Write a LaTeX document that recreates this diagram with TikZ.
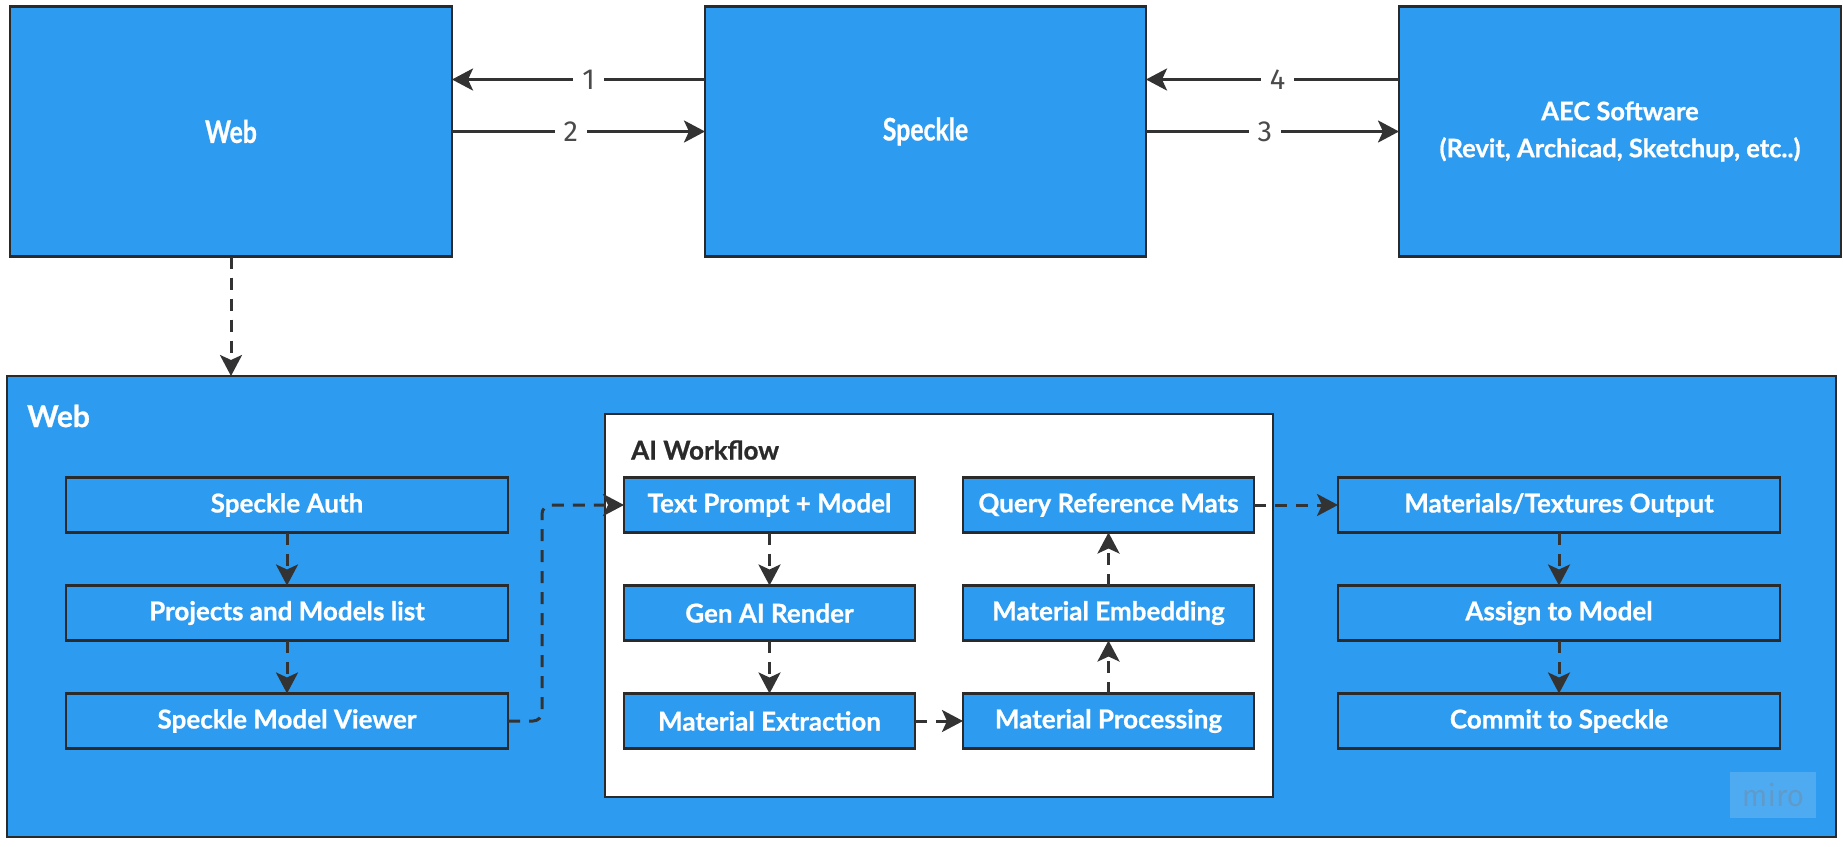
\documentclass[tikz,border=0pt]{standalone}
\usepackage{fontspec}
\newfontfamily\boxf[BoldFeatures={FakeBold=0.8}]{Lato}
\newfontfamily\condf[FakeStretch=0.8,BoldFeatures={FakeBold=0.8}]{Lato}
\newfontfamily\numf{Fira Sans}
\usetikzlibrary{arrows.meta}
\definecolor{mblue}{HTML}{2D9BF0}
\definecolor{edgec}{HTML}{2A2A2A}
\definecolor{connc}{HTML}{333333}
\definecolor{numc}{HTML}{4A4A4A}
\begin{document}
\begin{tikzpicture}[x=1pt,y=-1pt,
  box/.style={draw=edgec, line width=2.6pt, fill=mblue, text=white, inner sep=0pt, outer sep=0pt, align=center,
    font=\boxf\bfseries\fontsize{26}{30}\selectfont},
  rowbox/.style={box, minimum height=55pt},
  topbox/.style={box, minimum height=250pt, minimum width=442pt},
  link/.style={draw=connc, line width=3pt, -{Stealth[length=21pt,width=22pt,inset=5pt]}},
  dlink/.style={link, dash pattern=on 12pt off 9pt},
  num/.style={fill=white, text=numc, font=\numf\fontsize{29}{30}\selectfont, inner xsep=9pt, inner ysep=2pt}]
\useasboundingbox (0,0) rectangle (1844,846);
\fill[white] (0,0) rectangle (1844,846);

% top row
\node[topbox, font=\condf\bfseries\fontsize{31}{34}\selectfont] (web) at (231,131.5) {Web};
\node[topbox, minimum width=441pt, font=\condf\bfseries\fontsize{31}{34}\selectfont] (spk) at (925.5,131.5) {Speckle};
\node[topbox, font=\boxf\bfseries\fontsize{25.5}{37}\selectfont] (aec) at (1620,131.5) {AEC Software\\(Revit, Archicad, Sketchup, etc..)};

\draw[link] ([yshift=52pt]spk.west) -- node[num, pos=0.46]{1} ([yshift=52pt]web.east);
\draw[link] (web.east) -- node[num, pos=0.47]{2} (spk.west);
\draw[link] ([yshift=52pt]aec.west) -- node[num, pos=0.48]{4} ([yshift=52pt]spk.east);
\draw[link] (spk.east) -- node[num, pos=0.47]{3} (aec.west);

% container
\node[box, minimum width=1829pt, minimum height=461pt] (cont) at (921.5,606.5) {};
\node[anchor=west, text=white, font=\boxf\bfseries\fontsize{30}{34}\selectfont, inner sep=0pt] (contlbl) at (27,416) {Web};
\draw[dlink] (web.south) -- (web.south |- cont.north);

% AI workflow box
\node[box, fill=white, minimum width=668pt, minimum height=383pt] (ai) at (939,605.5) {};
\node[anchor=west, text=edgec, font=\boxf\bfseries\fontsize{26}{30}\selectfont, inner sep=0pt] (ailbl) at (631,450) {AI Workflow};

% left column
\node[rowbox, minimum width=442pt] (auth) at (287,505) {Speckle Auth};
\node[rowbox, minimum width=442pt] (proj) at (287,613) {Projects and Models list};
\node[rowbox, minimum width=442pt] (view) at (287,721) {Speckle Model Viewer};

% AI left column
\node[rowbox, minimum width=291pt] (tp) at (769.5,505) {Text Prompt + Model};
\node[rowbox, minimum width=291pt] (gen) at (769.5,613) {Gen AI Render};
\node[rowbox, minimum width=291pt] (ext) at (769.5,721) {Material Extraction};

% AI right column
\node[rowbox, minimum width=291pt] (qry) at (1108.5,505) {Query Reference Mats};
\node[rowbox, minimum width=291pt] (emb) at (1108.5,613) {Material Embedding};
\node[rowbox, minimum width=291pt] (proc) at (1108.5,721) {Material Processing};

% right column
\node[rowbox, minimum width=442pt] (mat) at (1559,505) {Materials/Textures Output};
\node[rowbox, minimum width=442pt] (asg) at (1559,613) {Assign to Model};
\node[rowbox, minimum width=442pt] (cmt) at (1559,721) {Commit to Speckle};

% connectors
\draw[dlink] (auth) -- (proj);
\draw[dlink] (proj) -- (view);
\coordinate (vx) at (542,0);
\draw[dlink, rounded corners=9pt] (view.east) -- (view.east -| vx) -- (tp.west -| vx) -- (tp.west);
\draw[dlink] (tp) -- (gen);
\draw[dlink] (gen) -- (ext);
\draw[dlink] (ext) -- (proc);
\draw[dlink] (proc) -- (emb);
\draw[dlink] (emb) -- (qry);
\draw[dlink] (qry) -- (mat);
\draw[dlink] (mat) -- (asg);
\draw[dlink] (asg) -- (cmt);

% watermark
\node[fill=white, fill opacity=0.16, text opacity=0.35, text=gray, minimum width=86pt, minimum height=46pt, inner sep=0pt,
  font=\numf\fontsize{30}{30}\selectfont] (miro) at (1773,795) {miro};
\end{tikzpicture}
\end{document}
